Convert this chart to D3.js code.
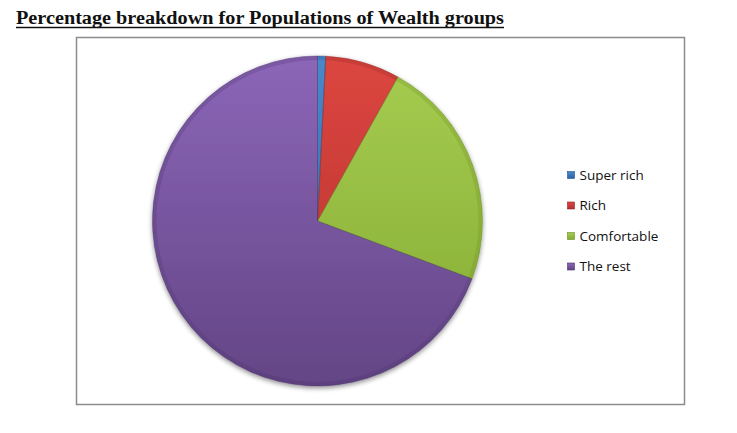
<!DOCTYPE html>
<html><head><meta charset="utf-8">
<script src="https://cdn.jsdelivr.net/npm/d3@7"></script>
<style>body{margin:0;background:#fff;}svg{display:block;}</style>
</head><body>
<svg id="c" width="737" height="433"></svg>
<script>
const categories = ["Super rich", "Rich", "Comfortable", "The rest"];
const values = [0.8, 7.3, 22.6, 69.3];
const topColors = ["#4a88cc", "#dc4640", "#a6cd50", "#8c66b8"];
const bottomColors = ["#2d62a3", "#b3302c", "#84ab32", "#634585"];
const edgeColors = ["#23508a", "#8e2622", "#6a8c25", "#4c346a"];
const title = "Percentage breakdown for Populations of Wealth groups";

const svg = d3.select("#c");
const defs = svg.append("defs");

// title
svg.append("text").attr("x", 16).attr("y", 24)
  .attr("font-family", "Liberation Serif, serif").attr("font-weight", "bold")
  .attr("font-size", 18).attr("fill", "#111")
  .attr("textLength", 488).attr("lengthAdjust", "spacingAndGlyphs")
  .text(title);
svg.append("line").attr("x1", 16).attr("x2", 504).attr("y1", 27.5).attr("y2", 27.5)
  .attr("stroke", "#111").attr("stroke-width", 1.3);

// frame
svg.append("rect").attr("x", 76.5).attr("y", 37.5).attr("width", 608).attr("height", 367)
  .attr("fill", "#fff").attr("stroke", "#8c8c8c").attr("stroke-width", 1.5);

const cx = 317.5, cy = 221, r = 165;

topColors.forEach((c, i) => {
  const g = defs.append("linearGradient").attr("id", "g" + i)
    .attr("gradientUnits", "userSpaceOnUse")
    .attr("x1", 0).attr("y1", -r).attr("x2", 0).attr("y2", r);
  g.append("stop").attr("offset", "0%").attr("stop-color", c);
  g.append("stop").attr("offset", "100%").attr("stop-color", bottomColors[i]);
  const lg = defs.append("linearGradient").attr("id", "l" + i)
    .attr("x1", 0).attr("y1", 0).attr("x2", 0).attr("y2", 1);
  lg.append("stop").attr("offset", "0%").attr("stop-color", topColors[i]);
  lg.append("stop").attr("offset", "100%").attr("stop-color", bottomColors[i]);
});
const f = defs.append("filter").attr("id", "sh").attr("x", "-20%").attr("y", "-20%").attr("width", "140%").attr("height", "140%");
f.append("feGaussianBlur").attr("in", "SourceAlpha").attr("stdDeviation", 2.5);
f.append("feOffset").attr("dx", 0).attr("dy", 2).attr("result", "b");
f.append("feComponentTransfer").append("feFuncA").attr("type", "linear").attr("slope", 0.45);
const fm = f.append("feMerge");
fm.append("feMergeNode");
fm.append("feMergeNode").attr("in", "SourceGraphic");

const pie = d3.pie().sort(null).value(d => d)(values);
const arc = d3.arc().innerRadius(0).outerRadius(r);
const rim = d3.arc().innerRadius(r - 4).outerRadius(r);

const gp = svg.append("g").attr("transform", `translate(${cx},${cy})`).attr("filter", "url(#sh)");
gp.selectAll("path.s").data(pie).join("path").attr("class", "s")
  .attr("d", arc).attr("fill", (d, i) => `url(#g${i})`);
gp.selectAll("path.rim").data(pie).join("path").attr("class", "rim")
  .attr("d", rim).attr("fill", (d, i) => edgeColors[i]).attr("opacity", 0.25);
gp.selectAll("path.edge").data(pie).join("path").attr("class", "edge")
  .attr("d", arc).attr("fill", "none").attr("stroke", (d, i) => edgeColors[i])
  .attr("stroke-opacity", 0.5).attr("stroke-width", 0.8);

// legend
const lg = svg.append("g");
const rows = lg.selectAll("g").data(categories).join("g")
  .attr("transform", (d, i) => `translate(567.5, ${175 + i * 30.5})`);
rows.append("rect").attr("x", 0).attr("y", -3.5).attr("width", 7).attr("height", 7)
  .attr("fill", (d, i) => `url(#l${i})`).attr("stroke", (d, i) => edgeColors[i]).attr("stroke-width", 0.6);
rows.append("text").attr("x", 12).attr("y", 0).attr("dy", "0.36em")
  .attr("font-family", "Open Sans, sans-serif").attr("font-size", 13.5).attr("fill", "#111")
  .text(d => d);
</script>
</body></html>
